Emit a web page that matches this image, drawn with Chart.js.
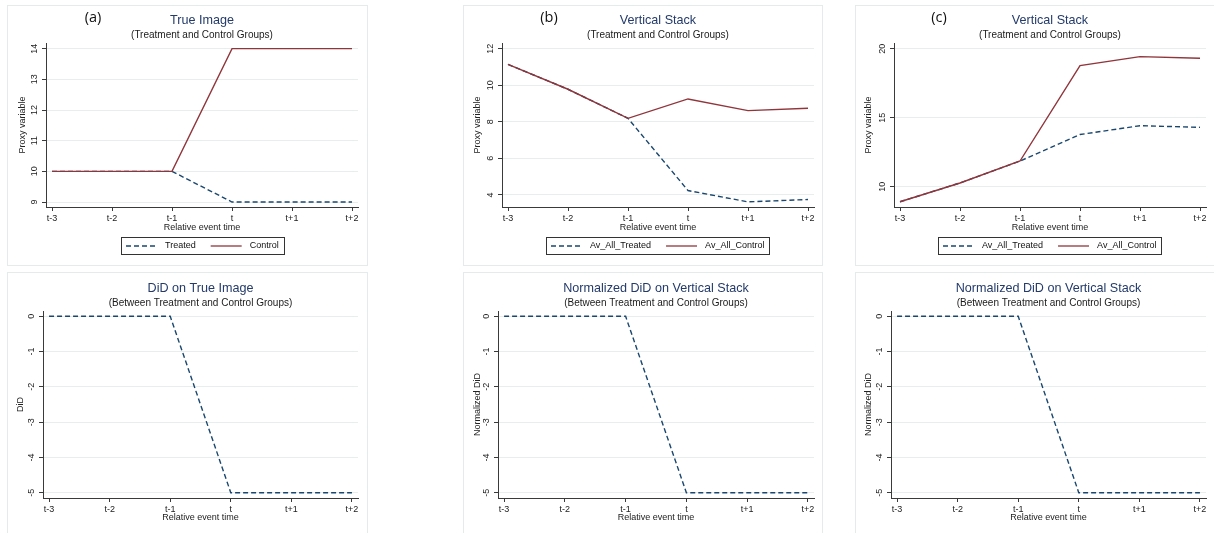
<!DOCTYPE html>
<html>
<head>
<meta charset="utf-8">
<script src="https://cdn.jsdelivr.net/npm/chart.js@4.4.1/dist/chart.umd.min.js"></script>
<style>
  html, body { margin: 0; padding: 0; background: #ffffff; overflow: hidden; }
  body { width: 1214px; height: 533px; position: relative; }
  .frame { position: absolute; box-sizing: border-box; border: 1px solid #e3ebeb; }
  canvas { position: absolute; }
</style>
</head>
<body>
<script>
// ---------- data ----------
const categories = ['t-3', 't-2', 't-1', 't', 't+1', 't+2'];

const trueTreated = [10, 10, 10, 9, 9, 9];
const trueControl = [10, 10, 10, 14, 14, 14];

const stackBTreated = [11.14, 9.78, 8.19, 4.24, 3.62, 3.75];
const stackBControl = [11.14, 9.78, 8.19, 9.25, 8.61, 8.74];

const stackCTreated = [8.91, 10.27, 11.86, 13.78, 14.42, 14.30];
const stackCControl = [8.91, 10.27, 11.86, 18.77, 19.42, 19.30];

const didTrue = [0, 0, 0, -5, -5, -5];
const didStackB = [0, 0, 0, -5, -5, -5];
const didStackC = [0, 0, 0, -5, -5, -5];

const ticksTrue = [9, 10, 11, 12, 13, 14];
const ticksStackB = [4, 6, 8, 10, 12];
const ticksStackC = [10, 15, 20];
const ticksDiD = [0, -1, -2, -3, -4, -5];

// ---------- styles ----------
const NAVY = '#1a476f';
const MAROON = '#90353b';
const FONT = '"Liberation Sans", Arial, Helvetica, sans-serif';
const AXIS = '#3a3a3a';
const GRID = '#e6eeee';

const decor = {
  id: 'decor',
  afterDraw(chart, args, o) {
    const { ctx, chartArea: a } = chart;
    const cx = (a.left + a.right) / 2;
    ctx.save();
    // rotated y tick labels
    const ys = chart.scales.y;
    ctx.font = '9px ' + FONT;
    ctx.fillStyle = '#222';
    ctx.textAlign = 'center';
    ctx.textBaseline = 'middle';
    ys.ticks.forEach(t => {
      const p = ys.getPixelForValue(t.value);
      ctx.save();
      ctx.translate(a.left - o.yLabelOff, p);
      ctx.rotate(-Math.PI / 2);
      ctx.fillText(String(t.value), 0, 0);
      ctx.restore();
    });
    // title + subtitle
    ctx.fillStyle = '#233a6a';
    ctx.font = '12.6px ' + FONT;
    ctx.fillText(o.title, cx, a.top - 22);
    ctx.fillStyle = '#1a1a1a';
    ctx.font = '10px ' + FONT;
    ctx.fillText(o.subtitle, cx, a.top - o.subOff);
    // panel label
    if (o.panel) {
      ctx.fillStyle = '#111';
      ctx.font = '14.5px "Open Sans", "Noto Sans", sans-serif';
      ctx.fillText(o.panel, a.left + o.panelOff, a.top - 25);
    }
    // legend
    if (o.legend) {
      const items = chart.data.datasets.map(ds => ({ label: ds.label, color: ds.borderColor, dash: ds.borderDash || [] }));
      ctx.font = '9px ' + FONT;
      const lineLen = 31, g1 = 8, g2 = 15, pad = 5;
      let w = pad * 2;
      items.forEach((it, i) => { w += lineLen + g1 + ctx.measureText(it.label).width; if (i) w += g2; });
      const bx = Math.round(cx - w / 2), by = Math.round(a.bottom + 30), bh = 17;
      ctx.strokeStyle = '#333';
      ctx.lineWidth = 1;
      ctx.strokeRect(bx + 0.5, by + 0.5, Math.round(w), bh);
      let x = bx + pad;
      const ly = by + bh / 2 + 0.5;
      items.forEach((it, i) => {
        if (i) x += g2;
        ctx.beginPath();
        ctx.setLineDash(it.dash);
        ctx.strokeStyle = it.color;
        ctx.lineWidth = 1.3;
        ctx.moveTo(x, ly);
        ctx.lineTo(x + lineLen, ly);
        ctx.stroke();
        ctx.setLineDash([]);
        x += lineLen + g1;
        ctx.fillStyle = '#111';
        ctx.textAlign = 'left';
        ctx.fillText(it.label, x, ly);
        x += ctx.measureText(it.label).width;
      });
    }
    ctx.restore();
  }
};

function makePanel(p) {
  const fr = p.frame || p.panel;
  const frame = document.createElement('div');
  frame.className = 'frame';
  frame.style.left = fr[0] + 'px';
  frame.style.top = fr[1] + 'px';
  frame.style.width = (fr[2] - fr[0]) + 'px';
  frame.style.height = (fr[3] - fr[1]) + 'px';
  document.body.appendChild(frame);

  const cv = document.createElement('canvas');
  const W = p.panel[2] - p.panel[0], H = p.panel[3] - p.panel[1];
  cv.width = W; cv.height = H;
  cv.style.left = p.panel[0] + 'px';
  cv.style.top = p.panel[1] + 'px';
  cv.style.width = W + 'px'; cv.style.height = H + 'px';
  document.body.appendChild(cv);

  const Wy = p.yTitleOff + 5.4;
  const Hx = p.xTitleOff + 5.4;
  const padding = {
    left: p.chart[0] - p.panel[0] - Wy,
    top: p.chart[1] - p.panel[1],
    right: p.panel[2] - p.chart[2],
    bottom: p.panel[3] - p.chart[3] - Hx
  };

  new Chart(cv, {
    type: 'line',
    data: {
      datasets: p.series.map(s => ({
        label: s.label,
        data: s.values.map((v, i) => ({ x: i, y: v })),
        borderColor: s.color,
        borderDash: s.dash,
        borderWidth: 1.4,
        pointRadius: 0,
        tension: 0,
        fill: false,
        order: s.order
      }))
    },
    options: {
      responsive: false,
      maintainAspectRatio: false,
      animation: false,
      devicePixelRatio: 1,
      layout: { padding },
      plugins: {
        legend: { display: false },
        title: { display: false },
        tooltip: { enabled: false },
        decor: p.decor
      },
      scales: {
        x: {
          type: 'linear',
          min: -0.1,
          max: categories.length - 1 + 0.1,
          afterBuildTicks: s => { s.ticks = categories.map((c, i) => ({ value: i })); },
          afterFit: s => { s.height = Hx; },
          ticks: {
            callback: v => categories[v],
            font: { family: FONT, size: 9 },
            color: '#222',
            padding: p.xTickPad,
            maxRotation: 0,
            autoSkip: false
          },
          grid: { drawOnChartArea: false, drawTicks: true, tickLength: 4, tickColor: AXIS, tickWidth: 1 },
          border: { display: true, color: AXIS, width: 1 },
          title: { display: true, text: 'Relative event time', font: { family: FONT, size: 9 }, color: '#222', padding: 0 }
        },
        y: {
          type: 'linear',
          min: p.yMin,
          max: p.yMax,
          afterBuildTicks: s => { s.ticks = p.yTicks.map(v => ({ value: v })); },
          afterFit: s => { s.width = Wy; },
          ticks: { display: false },
          grid: { color: GRID, lineWidth: 1, drawTicks: true, tickLength: 4, tickColor: AXIS, tickWidth: 1 },
          border: { display: true, color: AXIS, width: 1 },
          title: { display: true, text: p.yTitle, font: { family: FONT, size: 9 }, color: '#222', padding: 0 }
        }
      }
    },
    plugins: [decor]
  });
}

const dashed = [5, 3];
const topDecor = (title, panel, panelOff, yLabelOff) => ({ title, subtitle: '(Treatment and Control Groups)', subOff: 7.3, panel, panelOff, legend: true, yLabelOff });
const botDecor = (title, yLabelOff) => ({ title, subtitle: '(Between Treatment and Control Groups)', subOff: 7.7, legend: false, yLabelOff });

makePanel({
  panel: [7, 5, 368, 266], chart: [46, 43, 358, 207],
  yTitleOff: 23, xTitleOff: 21, xTickPad: 2.6,
  yMin: 8.837, yMax: 14.185, yTicks: ticksTrue, yTitle: 'Proxy variable',
  series: [
    { label: 'Treated', values: trueTreated, color: NAVY, dash: dashed, order: 1 },
    { label: 'Control', values: trueControl, color: MAROON, dash: [], order: 0 }
  ],
  decor: topDecor('True Image', '(a)', 47, 11)
});
makePanel({
  panel: [463, 5, 823, 266], chart: [502, 43, 814, 207],
  yTitleOff: 24, xTitleOff: 21, xTickPad: 2.6,
  yMin: 3.34, yMax: 12.31, yTicks: ticksStackB, yTitle: 'Proxy variable',
  series: [
    { label: 'Av_All_Treated', values: stackBTreated, color: NAVY, dash: dashed, order: 1 },
    { label: 'Av_All_Control', values: stackBControl, color: MAROON, dash: [], order: 0 }
  ],
  decor: topDecor('Vertical Stack', '(b)', 47, 11)
});
makePanel({
  panel: [855, 5, 1214, 266], frame: [855, 5, 1224, 266], chart: [894, 43, 1206, 207],
  yTitleOff: 25, xTitleOff: 21, xTickPad: 2.6,
  yMin: 8.53, yMax: 20.41, yTicks: ticksStackC, yTitle: 'Proxy variable',
  series: [
    { label: 'Av_All_Treated', values: stackCTreated, color: NAVY, dash: dashed, order: 1 },
    { label: 'Av_All_Control', values: stackCControl, color: MAROON, dash: [], order: 0 }
  ],
  decor: topDecor('Vertical Stack', '(c)', 45, 11)
});

makePanel({
  panel: [7, 272, 368, 533], frame: [7, 272, 368, 545], chart: [43, 311, 358, 498],
  yTitleOff: 22, xTitleOff: 20, xTickPad: 1.9,
  yMin: -5.15, yMax: 0.15, yTicks: ticksDiD, yTitle: 'DiD',
  series: [{ label: 'DiD', values: didTrue, color: NAVY, dash: dashed, order: 0 }],
  decor: botDecor('DiD on True Image', 11)
});
makePanel({
  panel: [463, 272, 823, 533], frame: [463, 272, 823, 545], chart: [498, 311, 814, 498],
  yTitleOff: 20.5, xTitleOff: 20, xTickPad: 1.9,
  yMin: -5.15, yMax: 0.15, yTicks: ticksDiD, yTitle: 'Normalized DiD',
  series: [{ label: 'Normalized DiD', values: didStackB, color: NAVY, dash: dashed, order: 0 }],
  decor: botDecor('Normalized DiD on Vertical Stack', 11)
});
makePanel({
  panel: [855, 272, 1214, 533], frame: [855, 272, 1224, 545], chart: [891, 311, 1206, 498],
  yTitleOff: 22, xTitleOff: 20, xTickPad: 1.9,
  yMin: -5.15, yMax: 0.15, yTicks: ticksDiD, yTitle: 'Normalized DiD',
  series: [{ label: 'Normalized DiD', values: didStackC, color: NAVY, dash: dashed, order: 0 }],
  decor: botDecor('Normalized DiD on Vertical Stack', 11)
});
</script>
</body>
</html>
